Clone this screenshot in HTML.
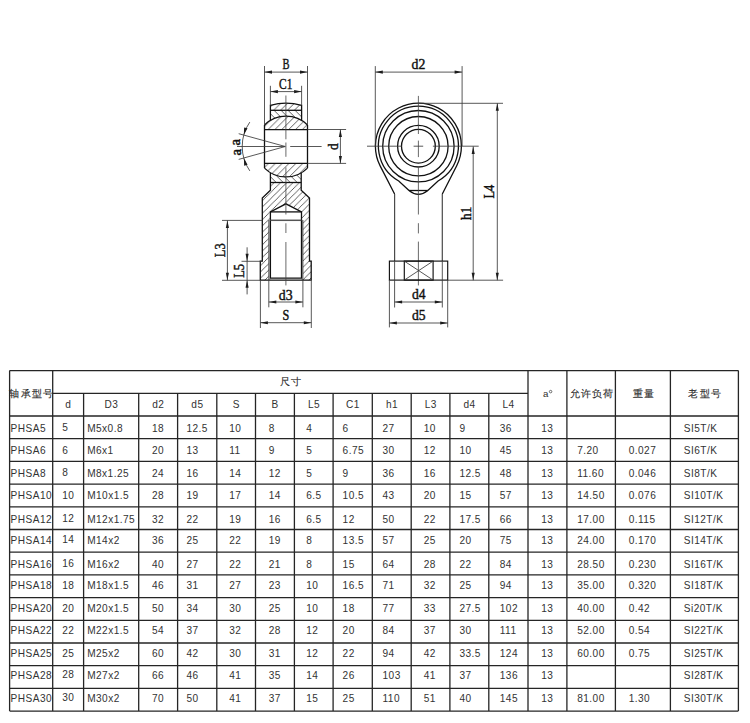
<!DOCTYPE html>
<html><head><meta charset="utf-8"><style>
html,body{margin:0;padding:0;background:#fff;width:750px;height:723px;overflow:hidden}
svg{display:block}
</style></head><body>
<svg width="750" height="723" viewBox="0 0 750 723">
<rect width="750" height="723" fill="#fff"/>
<defs>
<pattern id="hA" patternUnits="userSpaceOnUse" width="6.85" height="6.85" patternTransform="translate(0.4,0)"><path d="M-1,7.85 L7.85,-1 M-1,1 L1,-1 M5.85,7.85 L7.85,5.85" stroke="#2a2a2a" stroke-width="0.75"/></pattern>
<pattern id="hB" patternUnits="userSpaceOnUse" width="7.0" height="7.0" patternTransform="translate(2.7,0)"><path d="M-1,-1 L8.0,8.0 M-1,6.0 L1,8.0 M6.0,-1 L8.0,1" stroke="#2a2a2a" stroke-width="0.75"/></pattern>
<pattern id="hC" patternUnits="userSpaceOnUse" width="6.3" height="6.3" patternTransform="translate(3.2,0)"><path d="M-1,7.3 L7.3,-1 M-1,1 L1,-1 M5.3,7.3 L7.3,5.3" stroke="#2a2a2a" stroke-width="0.75"/></pattern>
</defs>
<path d="M270.4,110.3 L270.4,105.3 Q285.9,101.1 301.6,105.3 L301.6,110.3 Z" fill="url(#hA)"/>
<path d="M270.4,110.3 L301.6,110.3 L301.6,120.2 A30.5,30.5 0 0 0 270.4,120.2 Z" fill="url(#hB)"/>
<path d="M264.5,129.6 L264.5,125 A30.5,30.5 0 0 1 307.5,125 L307.5,129.6 Z" fill="url(#hA)"/>
<path d="M264.5,163.4 L264.5,168.1 A30.5,30.5 0 0 0 307.5,168.1 L307.5,163.4 Z" fill="url(#hA)"/>
<path d="M270.4,172.8 A30.5,30.5 0 0 0 301.2,172.8 L301.2,182.5 L270.4,182.5 Z" fill="url(#hB)"/>
<path d="M270.4,182.5 L301.2,182.5 L301.2,190.2 L309.5,198 L309.5,261.1 L311.2,261.1 L311.2,280.2 L301.5,280.2 L301.5,211.9 L285.9,203.8 L270.4,211.9 L270.4,280.2 L260.3,280.2 L260.3,261.1 L262.3,261.1 L262.3,198 L270.4,190.2 Z" fill="url(#hC)"/>
<rect x="268.9" y="220" width="1.5" height="60" fill="#cfcfcf"/>
<rect x="301.5" y="220" width="1.5" height="60" fill="#cfcfcf"/>
<path d="M270.4,120.2 L270.4,105.3 Q285.9,101.1 301.6,105.3 L301.6,120.2" stroke="#111" stroke-width="1.3" fill="none"/>
<line x1="270.40" y1="110.30" x2="301.60" y2="110.30" stroke="#111" stroke-width="1.3" fill="none"/>
<path d="M264.5,125 A30.5,30.5 0 0 1 307.5,125" stroke="#111" stroke-width="1.3" fill="none"/>
<path d="M264.5,168.1 A30.5,30.5 0 0 0 307.5,168.1" stroke="#111" stroke-width="1.3" fill="none"/>
<path d="M264.5,125 L264.5,168.1 M307.5,125 L307.5,168.1" stroke="#111" stroke-width="1.3" fill="none"/>
<line x1="264.50" y1="129.60" x2="307.50" y2="129.60" stroke="#111" stroke-width="1.3" fill="none"/>
<line x1="264.50" y1="163.40" x2="307.50" y2="163.40" stroke="#111" stroke-width="1.3" fill="none"/>
<path d="M270.4,172.8 L270.4,190.2 L262.3,198 L262.3,261.1 L260.3,261.1 L260.3,280.2 L311.2,280.2 L311.2,261.1 L309.5,261.1 L309.5,198 L301.2,190.2 L301.2,172.8" stroke="#111" stroke-width="1.3" fill="none"/>
<line x1="270.40" y1="182.50" x2="301.20" y2="182.50" stroke="#111" stroke-width="1.3" fill="none"/>
<path d="M270.4,278.1 L270.4,211.9 L285.9,203.8 L301.5,211.9 L301.5,278.1 Z" stroke="#111" stroke-width="1.3" fill="none"/>
<line x1="270.40" y1="211.90" x2="301.50" y2="211.90" stroke="#111" stroke-width="1.3" fill="none"/>
<line x1="270.40" y1="220.30" x2="301.50" y2="220.30" stroke="#555" stroke-width="1.5"/>
<line x1="268.80" y1="220.00" x2="268.80" y2="307.30" stroke="#3a3a3a" stroke-width="0.85" fill="none"/>
<line x1="302.90" y1="220.00" x2="302.90" y2="307.30" stroke="#3a3a3a" stroke-width="0.85" fill="none"/>
<line x1="285.90" y1="95.50" x2="285.90" y2="139.30" stroke="#444" stroke-width="0.8"/>
<line x1="285.90" y1="142.50" x2="285.90" y2="156.80" stroke="#444" stroke-width="0.8"/>
<line x1="285.90" y1="167.40" x2="285.90" y2="214.50" stroke="#444" stroke-width="0.8"/>
<line x1="285.90" y1="223.30" x2="285.90" y2="233.00" stroke="#444" stroke-width="0.8"/>
<line x1="285.90" y1="242.00" x2="285.90" y2="285.40" stroke="#444" stroke-width="0.8"/>
<line x1="237.00" y1="146.50" x2="284.70" y2="146.50" stroke="#3a3a3a" stroke-width="0.85" fill="none"/>
<line x1="290.20" y1="146.50" x2="321.60" y2="146.50" stroke="#3a3a3a" stroke-width="0.85" fill="none"/>
<line x1="264.50" y1="66.00" x2="264.50" y2="125.00" stroke="#3a3a3a" stroke-width="0.85" fill="none"/>
<line x1="307.50" y1="66.00" x2="307.50" y2="125.00" stroke="#3a3a3a" stroke-width="0.85" fill="none"/>
<line x1="264.50" y1="72.10" x2="307.50" y2="72.10" stroke="#3a3a3a" stroke-width="0.85" fill="none"/>
<path d="M264.50,72.10 L272.00,70.55 L272.00,73.65 Z" fill="#1c1c1c"/>
<path d="M307.50,72.10 L300.00,73.65 L300.00,70.55 Z" fill="#1c1c1c"/>
<text x="286.05" y="69.0" font-family="Liberation Serif" font-size="14.6" fill="#111" stroke="#111" stroke-width="0.42" text-anchor="middle" textLength="7.0" lengthAdjust="spacingAndGlyphs">B</text>
<line x1="270.40" y1="85.80" x2="270.40" y2="105.30" stroke="#3a3a3a" stroke-width="0.85" fill="none"/>
<line x1="301.60" y1="85.80" x2="301.60" y2="105.30" stroke="#3a3a3a" stroke-width="0.85" fill="none"/>
<line x1="270.40" y1="91.60" x2="301.60" y2="91.60" stroke="#3a3a3a" stroke-width="0.85" fill="none"/>
<path d="M270.40,91.60 L277.90,90.05 L277.90,93.15 Z" fill="#1c1c1c"/>
<path d="M301.60,91.60 L294.10,93.15 L294.10,90.05 Z" fill="#1c1c1c"/>
<text x="285.75" y="88.9" font-family="Liberation Serif" font-size="14.6" fill="#111" stroke="#111" stroke-width="0.42" text-anchor="middle" textLength="13.3" lengthAdjust="spacingAndGlyphs">C1</text>
<line x1="307.50" y1="129.50" x2="346.10" y2="129.50" stroke="#3a3a3a" stroke-width="0.85" fill="none"/>
<line x1="307.50" y1="163.40" x2="346.10" y2="163.40" stroke="#3a3a3a" stroke-width="0.85" fill="none"/>
<line x1="340.40" y1="129.50" x2="340.40" y2="163.40" stroke="#3a3a3a" stroke-width="0.85" fill="none"/>
<path d="M340.40,129.50 L341.95,137.00 L338.85,137.00 Z" fill="#1c1c1c"/>
<path d="M340.40,163.40 L338.85,155.90 L341.95,155.90 Z" fill="#1c1c1c"/>
<text x="0" y="0" font-family="Liberation Serif" font-size="14.6" fill="#111" stroke="#111" stroke-width="0.42" text-anchor="middle" textLength="6.6" lengthAdjust="spacingAndGlyphs" transform="translate(337.6,146.6) rotate(-90)">d</text>
<line x1="238.70" y1="133.70" x2="285.30" y2="146.50" stroke="#3a3a3a" stroke-width="0.85" fill="none"/>
<line x1="238.70" y1="159.40" x2="285.30" y2="146.50" stroke="#3a3a3a" stroke-width="0.85" fill="none"/>
<path d="M249.8,122.1 A43.0,43.0 0 0 0 249.8,170.9" stroke="#3a3a3a" stroke-width="0.85" fill="none"/>
<path d="M243.84,135.11 L244.13,127.42 L247.51,128.34 Z" fill="#1c1c1c"/>
<path d="M243.86,157.97 L247.55,164.73 L244.17,165.67 Z" fill="#1c1c1c"/>
<text x="0" y="0" font-family="Liberation Serif" font-size="15" fill="#111" stroke="#111" stroke-width="0.42" text-anchor="middle" textLength="6.6" lengthAdjust="spacingAndGlyphs" transform="translate(239.9,142.1) rotate(-90)">a</text>
<text x="0" y="0" font-family="Liberation Serif" font-size="15" fill="#111" stroke="#111" stroke-width="0.42" text-anchor="middle" textLength="6.6" lengthAdjust="spacingAndGlyphs" transform="translate(241.0,152.3) rotate(-90)">a</text>
<line x1="222.00" y1="220.40" x2="262.30" y2="220.40" stroke="#3a3a3a" stroke-width="0.85" fill="none"/>
<line x1="222.00" y1="280.30" x2="260.30" y2="280.30" stroke="#3a3a3a" stroke-width="0.85" fill="none"/>
<line x1="227.40" y1="220.40" x2="227.40" y2="280.30" stroke="#3a3a3a" stroke-width="0.85" fill="none"/>
<path d="M227.40,220.40 L228.95,227.90 L225.85,227.90 Z" fill="#1c1c1c"/>
<path d="M227.40,280.30 L225.85,272.80 L228.95,272.80 Z" fill="#1c1c1c"/>
<text x="0" y="0" font-family="Liberation Serif" font-size="14.6" fill="#111" stroke="#111" stroke-width="0.42" text-anchor="middle" textLength="13.8" lengthAdjust="spacingAndGlyphs" transform="translate(225.0,250.25) rotate(-90)">L3</text>
<line x1="241.50" y1="261.30" x2="262.30" y2="261.30" stroke="#3a3a3a" stroke-width="0.85" fill="none"/>
<line x1="247.10" y1="247.30" x2="247.10" y2="294.40" stroke="#3a3a3a" stroke-width="0.85" fill="none"/>
<path d="M247.10,261.30 L245.55,253.80 L248.65,253.80 Z" fill="#1c1c1c"/>
<path d="M247.10,280.30 L248.65,287.80 L245.55,287.80 Z" fill="#1c1c1c"/>
<text x="0" y="0" font-family="Liberation Serif" font-size="14.6" fill="#111" stroke="#111" stroke-width="0.42" text-anchor="middle" textLength="13.8" lengthAdjust="spacingAndGlyphs" transform="translate(244.2,270.85) rotate(-90)">L5</text>
<line x1="268.80" y1="302.00" x2="302.90" y2="302.00" stroke="#3a3a3a" stroke-width="0.85" fill="none"/>
<path d="M268.80,302.00 L276.30,300.45 L276.30,303.55 Z" fill="#1c1c1c"/>
<path d="M302.90,302.00 L295.40,303.55 L295.40,300.45 Z" fill="#1c1c1c"/>
<text x="285.7" y="299.5" font-family="Liberation Serif" font-size="14.6" fill="#111" stroke="#111" stroke-width="0.42" text-anchor="middle" textLength="13.8" lengthAdjust="spacingAndGlyphs">d3</text>
<line x1="260.40" y1="280.40" x2="260.40" y2="328.00" stroke="#3a3a3a" stroke-width="0.85" fill="none"/>
<line x1="311.30" y1="280.40" x2="311.30" y2="328.00" stroke="#3a3a3a" stroke-width="0.85" fill="none"/>
<line x1="260.40" y1="322.70" x2="311.30" y2="322.70" stroke="#3a3a3a" stroke-width="0.85" fill="none"/>
<path d="M260.40,322.70 L267.90,321.15 L267.90,324.25 Z" fill="#1c1c1c"/>
<path d="M311.30,322.70 L303.80,324.25 L303.80,321.15 Z" fill="#1c1c1c"/>
<text x="285.9" y="320.0" font-family="Liberation Serif" font-size="14.6" fill="#111" stroke="#111" stroke-width="0.42" text-anchor="middle" textLength="6.8" lengthAdjust="spacingAndGlyphs">S</text>
<path d="M394.6,194 L380.14,165.83 A43.0,43.0 0 1 1 456.71,165.73 L442.3,194" stroke="#111" stroke-width="1.3" fill="none"/>
<path d="M394.6,194 L394.6,261.1 M442.3,194 L442.3,261.1" stroke="#4a4a4a" stroke-width="1.2" fill="none"/>
<path d="M398.75,181.04 A40.0,40.0 0 1 1 438.05,181.04 L427.8,190.5 Q418.4,198.3 409,190.5 Z" stroke="#111" stroke-width="1.3" fill="none"/>
<line x1="409.00" y1="190.50" x2="427.80" y2="190.50" stroke="#111" stroke-width="1.3" fill="none"/>
<circle cx="418.4" cy="146.2" r="35.7" stroke="#111" stroke-width="1.3" fill="none"/>
<circle cx="418.4" cy="146.2" r="29.7" stroke="#111" stroke-width="1.3" fill="none"/>
<circle cx="418.4" cy="146.2" r="20.8" stroke="#111" stroke-width="1.3" fill="none"/>
<circle cx="418.4" cy="146.2" r="16.9" stroke="#111" stroke-width="1.3" fill="none"/>
<line x1="367.00" y1="146.20" x2="401.80" y2="146.20" stroke="#3a3a3a" stroke-width="0.85" fill="none"/>
<line x1="413.60" y1="146.20" x2="423.20" y2="146.20" stroke="#3a3a3a" stroke-width="0.85" fill="none"/>
<line x1="432.90" y1="146.20" x2="478.70" y2="146.20" stroke="#3a3a3a" stroke-width="0.85" fill="none"/>
<line x1="418.40" y1="95.90" x2="418.40" y2="134.00" stroke="#444" stroke-width="0.8"/>
<line x1="418.40" y1="140.60" x2="418.40" y2="157.10" stroke="#444" stroke-width="0.8"/>
<line x1="418.40" y1="167.80" x2="418.40" y2="214.50" stroke="#444" stroke-width="0.8"/>
<line x1="418.40" y1="223.20" x2="418.40" y2="233.40" stroke="#444" stroke-width="0.8"/>
<line x1="418.40" y1="241.60" x2="418.40" y2="285.40" stroke="#444" stroke-width="0.8"/>
<rect x="389.4" y="261.1" width="58.3" height="19" stroke="#111" stroke-width="1.15" fill="none"/>
<rect x="404.3" y="261.1" width="28.8" height="19" stroke="#111" stroke-width="1.15" fill="none"/>
<line x1="404.30" y1="261.10" x2="433.10" y2="280.10" stroke="#3a3a3a" stroke-width="0.85" fill="none"/>
<line x1="433.10" y1="261.10" x2="404.30" y2="280.10" stroke="#3a3a3a" stroke-width="0.85" fill="none"/>
<line x1="394.60" y1="261.10" x2="394.60" y2="307.50" stroke="#3a3a3a" stroke-width="0.85" fill="none"/>
<line x1="442.30" y1="261.10" x2="442.30" y2="307.50" stroke="#3a3a3a" stroke-width="0.85" fill="none"/>
<line x1="375.30" y1="66.10" x2="375.30" y2="146.20" stroke="#3a3a3a" stroke-width="0.85" fill="none"/>
<line x1="462.10" y1="66.10" x2="462.10" y2="146.20" stroke="#3a3a3a" stroke-width="0.85" fill="none"/>
<line x1="375.30" y1="72.10" x2="462.10" y2="72.10" stroke="#3a3a3a" stroke-width="0.85" fill="none"/>
<path d="M375.30,72.10 L382.80,70.55 L382.80,73.65 Z" fill="#1c1c1c"/>
<path d="M462.10,72.10 L454.60,73.65 L454.60,70.55 Z" fill="#1c1c1c"/>
<text x="418.4" y="69.0" font-family="Liberation Serif" font-size="14.6" fill="#111" stroke="#111" stroke-width="0.42" text-anchor="middle" textLength="13.8" lengthAdjust="spacingAndGlyphs">d2</text>
<line x1="418.40" y1="103.30" x2="503.00" y2="103.30" stroke="#3a3a3a" stroke-width="0.85" fill="none"/>
<line x1="447.70" y1="280.20" x2="503.10" y2="280.20" stroke="#3a3a3a" stroke-width="0.85" fill="none"/>
<line x1="497.30" y1="103.30" x2="497.30" y2="280.30" stroke="#3a3a3a" stroke-width="0.85" fill="none"/>
<path d="M497.30,103.30 L498.85,110.80 L495.75,110.80 Z" fill="#1c1c1c"/>
<path d="M497.30,280.30 L495.75,272.80 L498.85,272.80 Z" fill="#1c1c1c"/>
<line x1="473.20" y1="146.40" x2="473.20" y2="280.30" stroke="#3a3a3a" stroke-width="0.85" fill="none"/>
<path d="M473.20,146.40 L474.75,153.90 L471.65,153.90 Z" fill="#1c1c1c"/>
<path d="M473.20,280.30 L471.65,272.80 L474.75,272.80 Z" fill="#1c1c1c"/>
<text x="0" y="0" font-family="Liberation Serif" font-size="14.6" fill="#111" stroke="#111" stroke-width="0.42" text-anchor="middle" textLength="13.4" lengthAdjust="spacingAndGlyphs" transform="translate(470.6,213.35) rotate(-90)">h1</text>
<text x="0" y="0" font-family="Liberation Serif" font-size="14.6" fill="#111" stroke="#111" stroke-width="0.42" text-anchor="middle" textLength="13.8" lengthAdjust="spacingAndGlyphs" transform="translate(494.2,191.65) rotate(-90)">L4</text>
<line x1="394.60" y1="302.00" x2="442.30" y2="302.00" stroke="#3a3a3a" stroke-width="0.85" fill="none"/>
<path d="M394.60,302.00 L402.10,300.45 L402.10,303.55 Z" fill="#1c1c1c"/>
<path d="M442.30,302.00 L434.80,303.55 L434.80,300.45 Z" fill="#1c1c1c"/>
<text x="418.75" y="299.2" font-family="Liberation Serif" font-size="14.6" fill="#111" stroke="#111" stroke-width="0.42" text-anchor="middle" textLength="13.6" lengthAdjust="spacingAndGlyphs">d4</text>
<line x1="389.40" y1="280.10" x2="389.40" y2="327.40" stroke="#3a3a3a" stroke-width="0.85" fill="none"/>
<line x1="447.70" y1="280.10" x2="447.70" y2="327.40" stroke="#3a3a3a" stroke-width="0.85" fill="none"/>
<line x1="389.40" y1="323.00" x2="447.70" y2="323.00" stroke="#3a3a3a" stroke-width="0.85" fill="none"/>
<path d="M389.40,323.00 L396.90,321.45 L396.90,324.55 Z" fill="#1c1c1c"/>
<path d="M447.70,323.00 L440.20,324.55 L440.20,321.45 Z" fill="#1c1c1c"/>
<text x="418.75" y="320.0" font-family="Liberation Serif" font-size="14.6" fill="#111" stroke="#111" stroke-width="0.42" text-anchor="middle" textLength="13.6" lengthAdjust="spacingAndGlyphs">d5</text>
<line x1="9.60" y1="370.60" x2="738.40" y2="370.60" stroke="#252525" stroke-width="1.3"/>
<line x1="52.70" y1="393.30" x2="528.00" y2="393.30" stroke="#252525" stroke-width="1.3"/>
<line x1="9.60" y1="416.00" x2="738.40" y2="416.00" stroke="#252525" stroke-width="1.3"/>
<line x1="9.60" y1="438.70" x2="738.40" y2="438.70" stroke="#252525" stroke-width="1.3"/>
<line x1="9.60" y1="461.40" x2="738.40" y2="461.40" stroke="#252525" stroke-width="1.3"/>
<line x1="9.60" y1="484.10" x2="738.40" y2="484.10" stroke="#252525" stroke-width="1.3"/>
<line x1="9.60" y1="506.80" x2="738.40" y2="506.80" stroke="#252525" stroke-width="1.3"/>
<line x1="9.60" y1="529.50" x2="738.40" y2="529.50" stroke="#252525" stroke-width="1.3"/>
<line x1="9.60" y1="552.20" x2="738.40" y2="552.20" stroke="#252525" stroke-width="1.3"/>
<line x1="9.60" y1="574.90" x2="738.40" y2="574.90" stroke="#252525" stroke-width="1.3"/>
<line x1="9.60" y1="597.60" x2="738.40" y2="597.60" stroke="#252525" stroke-width="1.3"/>
<line x1="9.60" y1="620.30" x2="738.40" y2="620.30" stroke="#252525" stroke-width="1.3"/>
<line x1="9.60" y1="643.00" x2="738.40" y2="643.00" stroke="#252525" stroke-width="1.3"/>
<line x1="9.60" y1="665.70" x2="738.40" y2="665.70" stroke="#252525" stroke-width="1.3"/>
<line x1="9.60" y1="688.40" x2="738.40" y2="688.40" stroke="#252525" stroke-width="1.3"/>
<line x1="9.60" y1="711.10" x2="738.40" y2="711.10" stroke="#252525" stroke-width="1.3"/>
<line x1="9.60" y1="370.60" x2="9.60" y2="711.10" stroke="#252525" stroke-width="1.3"/>
<line x1="52.70" y1="370.60" x2="52.70" y2="711.10" stroke="#252525" stroke-width="1.3"/>
<line x1="83.60" y1="393.30" x2="83.60" y2="711.10" stroke="#252525" stroke-width="1.3"/>
<line x1="138.70" y1="393.30" x2="138.70" y2="711.10" stroke="#252525" stroke-width="1.3"/>
<line x1="177.60" y1="393.30" x2="177.60" y2="711.10" stroke="#252525" stroke-width="1.3"/>
<line x1="216.80" y1="393.30" x2="216.80" y2="711.10" stroke="#252525" stroke-width="1.3"/>
<line x1="255.50" y1="393.30" x2="255.50" y2="711.10" stroke="#252525" stroke-width="1.3"/>
<line x1="294.40" y1="393.30" x2="294.40" y2="711.10" stroke="#252525" stroke-width="1.3"/>
<line x1="333.10" y1="393.30" x2="333.10" y2="711.10" stroke="#252525" stroke-width="1.3"/>
<line x1="372.30" y1="393.30" x2="372.30" y2="711.10" stroke="#252525" stroke-width="1.3"/>
<line x1="411.20" y1="393.30" x2="411.20" y2="711.10" stroke="#252525" stroke-width="1.3"/>
<line x1="449.90" y1="393.30" x2="449.90" y2="711.10" stroke="#252525" stroke-width="1.3"/>
<line x1="488.80" y1="393.30" x2="488.80" y2="711.10" stroke="#252525" stroke-width="1.3"/>
<line x1="528.00" y1="370.60" x2="528.00" y2="711.10" stroke="#252525" stroke-width="1.3"/>
<line x1="566.90" y1="370.60" x2="566.90" y2="711.10" stroke="#252525" stroke-width="1.3"/>
<line x1="615.40" y1="370.60" x2="615.40" y2="711.10" stroke="#252525" stroke-width="1.3"/>
<line x1="670.40" y1="370.60" x2="670.40" y2="711.10" stroke="#252525" stroke-width="1.3"/>
<line x1="738.40" y1="370.60" x2="738.40" y2="711.10" stroke="#252525" stroke-width="1.3"/>
<text x="31.85" y="397.2" font-family="Liberation Sans" font-size="9.6" letter-spacing="1.2" fill="#2a2a2a" stroke="#2a2a2a" stroke-width="0.12" text-anchor="middle">轴承型号</text>
<text x="291.0" y="385.2" font-family="Liberation Sans" font-size="9.6" letter-spacing="1.2" fill="#2a2a2a" stroke="#2a2a2a" stroke-width="0.12" text-anchor="middle">尺寸</text>
<text x="592.15" y="397.2" font-family="Liberation Sans" font-size="9.6" letter-spacing="1.2" fill="#2a2a2a" stroke="#2a2a2a" stroke-width="0.12" text-anchor="middle">允许负荷</text>
<text x="644.0" y="397.2" font-family="Liberation Sans" font-size="9.6" letter-spacing="1.2" fill="#2a2a2a" stroke="#2a2a2a" stroke-width="0.12" text-anchor="middle">重量</text>
<text x="705.2" y="397.2" font-family="Liberation Sans" font-size="9.6" letter-spacing="1.2" fill="#2a2a2a" stroke="#2a2a2a" stroke-width="0.12" text-anchor="middle">老型号</text>
<text x="543.0" y="397.0" font-family="Liberation Sans" font-size="9.6" fill="#2a2a2a">a</text>
<circle cx="550.6" cy="391.6" r="1.25" stroke="#333" stroke-width="0.7" fill="none"/>
<text x="68.37" y="408.30" font-family="Liberation Sans" font-size="10.1" fill="#333" letter-spacing="0.45" text-anchor="middle">d</text>
<text x="111.37" y="408.30" font-family="Liberation Sans" font-size="10.1" fill="#333" letter-spacing="0.45" text-anchor="middle">D3</text>
<text x="158.37" y="408.30" font-family="Liberation Sans" font-size="10.1" fill="#333" letter-spacing="0.45" text-anchor="middle">d2</text>
<text x="197.42" y="408.30" font-family="Liberation Sans" font-size="10.1" fill="#333" letter-spacing="0.45" text-anchor="middle">d5</text>
<text x="236.37" y="408.30" font-family="Liberation Sans" font-size="10.1" fill="#333" letter-spacing="0.45" text-anchor="middle">S</text>
<text x="275.17" y="408.30" font-family="Liberation Sans" font-size="10.1" fill="#333" letter-spacing="0.45" text-anchor="middle">B</text>
<text x="313.97" y="408.30" font-family="Liberation Sans" font-size="10.1" fill="#333" letter-spacing="0.45" text-anchor="middle">L5</text>
<text x="352.92" y="408.30" font-family="Liberation Sans" font-size="10.1" fill="#333" letter-spacing="0.45" text-anchor="middle">C1</text>
<text x="391.97" y="408.30" font-family="Liberation Sans" font-size="10.1" fill="#333" letter-spacing="0.45" text-anchor="middle">h1</text>
<text x="430.77" y="408.30" font-family="Liberation Sans" font-size="10.1" fill="#333" letter-spacing="0.45" text-anchor="middle">L3</text>
<text x="469.57" y="408.30" font-family="Liberation Sans" font-size="10.1" fill="#333" letter-spacing="0.45" text-anchor="middle">d4</text>
<text x="508.62" y="408.30" font-family="Liberation Sans" font-size="10.1" fill="#333" letter-spacing="0.45" text-anchor="middle">L4</text>
<text x="10.60" y="432.00" font-family="Liberation Sans" font-size="10.1" fill="#333" letter-spacing="0.45" text-anchor="start">PHSA5</text>
<text x="62.20" y="431.30" font-family="Liberation Sans" font-size="10.1" fill="#333" letter-spacing="0.45" text-anchor="start">5</text>
<text x="87.20" y="432.00" font-family="Liberation Sans" font-size="10.1" fill="#333" letter-spacing="0.45" text-anchor="start">M5x0.8</text>
<text x="152.00" y="432.00" font-family="Liberation Sans" font-size="10.1" fill="#333" letter-spacing="0.45" text-anchor="start">18</text>
<text x="186.40" y="432.00" font-family="Liberation Sans" font-size="10.1" fill="#333" letter-spacing="0.45" text-anchor="start">12.5</text>
<text x="229.30" y="432.00" font-family="Liberation Sans" font-size="10.1" fill="#333" letter-spacing="0.45" text-anchor="start">10</text>
<text x="268.80" y="432.00" font-family="Liberation Sans" font-size="10.1" fill="#333" letter-spacing="0.45" text-anchor="start">8</text>
<text x="306.20" y="432.00" font-family="Liberation Sans" font-size="10.1" fill="#333" letter-spacing="0.45" text-anchor="start">4</text>
<text x="342.60" y="432.00" font-family="Liberation Sans" font-size="10.1" fill="#333" letter-spacing="0.45" text-anchor="start">6</text>
<text x="382.50" y="432.00" font-family="Liberation Sans" font-size="10.1" fill="#333" letter-spacing="0.45" text-anchor="start">27</text>
<text x="423.70" y="432.00" font-family="Liberation Sans" font-size="10.1" fill="#333" letter-spacing="0.45" text-anchor="start">10</text>
<text x="459.40" y="432.00" font-family="Liberation Sans" font-size="10.1" fill="#333" letter-spacing="0.45" text-anchor="start">9</text>
<text x="499.80" y="432.00" font-family="Liberation Sans" font-size="10.1" fill="#333" letter-spacing="0.45" text-anchor="start">36</text>
<text x="541.20" y="432.00" font-family="Liberation Sans" font-size="10.1" fill="#333" letter-spacing="0.45" text-anchor="start">13</text>
<text x="683.80" y="432.00" font-family="Liberation Sans" font-size="10.1" fill="#333" letter-spacing="0.45" text-anchor="start">SI5T/K</text>
<text x="10.60" y="454.30" font-family="Liberation Sans" font-size="10.1" fill="#333" letter-spacing="0.45" text-anchor="start">PHSA6</text>
<text x="62.20" y="453.60" font-family="Liberation Sans" font-size="10.1" fill="#333" letter-spacing="0.45" text-anchor="start">6</text>
<text x="87.20" y="454.30" font-family="Liberation Sans" font-size="10.1" fill="#333" letter-spacing="0.45" text-anchor="start">M6x1</text>
<text x="152.00" y="454.30" font-family="Liberation Sans" font-size="10.1" fill="#333" letter-spacing="0.45" text-anchor="start">20</text>
<text x="186.40" y="454.30" font-family="Liberation Sans" font-size="10.1" fill="#333" letter-spacing="0.45" text-anchor="start">13</text>
<text x="229.30" y="454.30" font-family="Liberation Sans" font-size="10.1" fill="#333" letter-spacing="0.45" text-anchor="start">11</text>
<text x="268.80" y="454.30" font-family="Liberation Sans" font-size="10.1" fill="#333" letter-spacing="0.45" text-anchor="start">9</text>
<text x="306.20" y="454.30" font-family="Liberation Sans" font-size="10.1" fill="#333" letter-spacing="0.45" text-anchor="start">5</text>
<text x="342.60" y="454.30" font-family="Liberation Sans" font-size="10.1" fill="#333" letter-spacing="0.45" text-anchor="start">6.75</text>
<text x="382.50" y="454.30" font-family="Liberation Sans" font-size="10.1" fill="#333" letter-spacing="0.45" text-anchor="start">30</text>
<text x="423.70" y="454.30" font-family="Liberation Sans" font-size="10.1" fill="#333" letter-spacing="0.45" text-anchor="start">12</text>
<text x="459.40" y="454.30" font-family="Liberation Sans" font-size="10.1" fill="#333" letter-spacing="0.45" text-anchor="start">10</text>
<text x="499.80" y="454.30" font-family="Liberation Sans" font-size="10.1" fill="#333" letter-spacing="0.45" text-anchor="start">45</text>
<text x="541.20" y="454.30" font-family="Liberation Sans" font-size="10.1" fill="#333" letter-spacing="0.45" text-anchor="start">13</text>
<text x="577.20" y="454.30" font-family="Liberation Sans" font-size="10.1" fill="#333" letter-spacing="0.45" text-anchor="start">7.20</text>
<text x="628.70" y="454.30" font-family="Liberation Sans" font-size="10.1" fill="#333" letter-spacing="0.45" text-anchor="start">0.027</text>
<text x="683.80" y="454.30" font-family="Liberation Sans" font-size="10.1" fill="#333" letter-spacing="0.45" text-anchor="start">SI6T/K</text>
<text x="10.60" y="477.00" font-family="Liberation Sans" font-size="10.1" fill="#333" letter-spacing="0.45" text-anchor="start">PHSA8</text>
<text x="62.20" y="476.30" font-family="Liberation Sans" font-size="10.1" fill="#333" letter-spacing="0.45" text-anchor="start">8</text>
<text x="87.20" y="477.00" font-family="Liberation Sans" font-size="10.1" fill="#333" letter-spacing="0.45" text-anchor="start">M8x1.25</text>
<text x="152.00" y="477.00" font-family="Liberation Sans" font-size="10.1" fill="#333" letter-spacing="0.45" text-anchor="start">24</text>
<text x="186.40" y="477.00" font-family="Liberation Sans" font-size="10.1" fill="#333" letter-spacing="0.45" text-anchor="start">16</text>
<text x="229.30" y="477.00" font-family="Liberation Sans" font-size="10.1" fill="#333" letter-spacing="0.45" text-anchor="start">14</text>
<text x="268.80" y="477.00" font-family="Liberation Sans" font-size="10.1" fill="#333" letter-spacing="0.45" text-anchor="start">12</text>
<text x="306.20" y="477.00" font-family="Liberation Sans" font-size="10.1" fill="#333" letter-spacing="0.45" text-anchor="start">5</text>
<text x="342.60" y="477.00" font-family="Liberation Sans" font-size="10.1" fill="#333" letter-spacing="0.45" text-anchor="start">9</text>
<text x="382.50" y="477.00" font-family="Liberation Sans" font-size="10.1" fill="#333" letter-spacing="0.45" text-anchor="start">36</text>
<text x="423.70" y="477.00" font-family="Liberation Sans" font-size="10.1" fill="#333" letter-spacing="0.45" text-anchor="start">16</text>
<text x="459.40" y="477.00" font-family="Liberation Sans" font-size="10.1" fill="#333" letter-spacing="0.45" text-anchor="start">12.5</text>
<text x="499.80" y="477.00" font-family="Liberation Sans" font-size="10.1" fill="#333" letter-spacing="0.45" text-anchor="start">48</text>
<text x="541.20" y="477.00" font-family="Liberation Sans" font-size="10.1" fill="#333" letter-spacing="0.45" text-anchor="start">13</text>
<text x="577.20" y="477.00" font-family="Liberation Sans" font-size="10.1" fill="#333" letter-spacing="0.45" text-anchor="start">11.60</text>
<text x="628.70" y="477.00" font-family="Liberation Sans" font-size="10.1" fill="#333" letter-spacing="0.45" text-anchor="start">0.046</text>
<text x="683.80" y="477.00" font-family="Liberation Sans" font-size="10.1" fill="#333" letter-spacing="0.45" text-anchor="start">SI8T/K</text>
<text x="10.60" y="499.20" font-family="Liberation Sans" font-size="10.1" fill="#333" letter-spacing="0.45" text-anchor="start">PHSA10</text>
<text x="62.20" y="498.50" font-family="Liberation Sans" font-size="10.1" fill="#333" letter-spacing="0.45" text-anchor="start">10</text>
<text x="87.20" y="499.20" font-family="Liberation Sans" font-size="10.1" fill="#333" letter-spacing="0.45" text-anchor="start">M10x1.5</text>
<text x="152.00" y="499.20" font-family="Liberation Sans" font-size="10.1" fill="#333" letter-spacing="0.45" text-anchor="start">28</text>
<text x="186.40" y="499.20" font-family="Liberation Sans" font-size="10.1" fill="#333" letter-spacing="0.45" text-anchor="start">19</text>
<text x="229.30" y="499.20" font-family="Liberation Sans" font-size="10.1" fill="#333" letter-spacing="0.45" text-anchor="start">17</text>
<text x="268.80" y="499.20" font-family="Liberation Sans" font-size="10.1" fill="#333" letter-spacing="0.45" text-anchor="start">14</text>
<text x="306.20" y="499.20" font-family="Liberation Sans" font-size="10.1" fill="#333" letter-spacing="0.45" text-anchor="start">6.5</text>
<text x="342.60" y="499.20" font-family="Liberation Sans" font-size="10.1" fill="#333" letter-spacing="0.45" text-anchor="start">10.5</text>
<text x="382.50" y="499.20" font-family="Liberation Sans" font-size="10.1" fill="#333" letter-spacing="0.45" text-anchor="start">43</text>
<text x="423.70" y="499.20" font-family="Liberation Sans" font-size="10.1" fill="#333" letter-spacing="0.45" text-anchor="start">20</text>
<text x="459.40" y="499.20" font-family="Liberation Sans" font-size="10.1" fill="#333" letter-spacing="0.45" text-anchor="start">15</text>
<text x="499.80" y="499.20" font-family="Liberation Sans" font-size="10.1" fill="#333" letter-spacing="0.45" text-anchor="start">57</text>
<text x="541.20" y="499.20" font-family="Liberation Sans" font-size="10.1" fill="#333" letter-spacing="0.45" text-anchor="start">13</text>
<text x="577.20" y="499.20" font-family="Liberation Sans" font-size="10.1" fill="#333" letter-spacing="0.45" text-anchor="start">14.50</text>
<text x="628.70" y="499.20" font-family="Liberation Sans" font-size="10.1" fill="#333" letter-spacing="0.45" text-anchor="start">0.076</text>
<text x="683.80" y="499.20" font-family="Liberation Sans" font-size="10.1" fill="#333" letter-spacing="0.45" text-anchor="start">SI10T/K</text>
<text x="10.60" y="522.50" font-family="Liberation Sans" font-size="10.1" fill="#333" letter-spacing="0.45" text-anchor="start">PHSA12</text>
<text x="62.20" y="521.80" font-family="Liberation Sans" font-size="10.1" fill="#333" letter-spacing="0.45" text-anchor="start">12</text>
<text x="87.20" y="522.50" font-family="Liberation Sans" font-size="10.1" fill="#333" letter-spacing="0.45" text-anchor="start">M12x1.75</text>
<text x="152.00" y="522.50" font-family="Liberation Sans" font-size="10.1" fill="#333" letter-spacing="0.45" text-anchor="start">32</text>
<text x="186.40" y="522.50" font-family="Liberation Sans" font-size="10.1" fill="#333" letter-spacing="0.45" text-anchor="start">22</text>
<text x="229.30" y="522.50" font-family="Liberation Sans" font-size="10.1" fill="#333" letter-spacing="0.45" text-anchor="start">19</text>
<text x="268.80" y="522.50" font-family="Liberation Sans" font-size="10.1" fill="#333" letter-spacing="0.45" text-anchor="start">16</text>
<text x="306.20" y="522.50" font-family="Liberation Sans" font-size="10.1" fill="#333" letter-spacing="0.45" text-anchor="start">6.5</text>
<text x="342.60" y="522.50" font-family="Liberation Sans" font-size="10.1" fill="#333" letter-spacing="0.45" text-anchor="start">12</text>
<text x="382.50" y="522.50" font-family="Liberation Sans" font-size="10.1" fill="#333" letter-spacing="0.45" text-anchor="start">50</text>
<text x="423.70" y="522.50" font-family="Liberation Sans" font-size="10.1" fill="#333" letter-spacing="0.45" text-anchor="start">22</text>
<text x="459.40" y="522.50" font-family="Liberation Sans" font-size="10.1" fill="#333" letter-spacing="0.45" text-anchor="start">17.5</text>
<text x="499.80" y="522.50" font-family="Liberation Sans" font-size="10.1" fill="#333" letter-spacing="0.45" text-anchor="start">66</text>
<text x="541.20" y="522.50" font-family="Liberation Sans" font-size="10.1" fill="#333" letter-spacing="0.45" text-anchor="start">13</text>
<text x="577.20" y="522.50" font-family="Liberation Sans" font-size="10.1" fill="#333" letter-spacing="0.45" text-anchor="start">17.00</text>
<text x="628.70" y="522.50" font-family="Liberation Sans" font-size="10.1" fill="#333" letter-spacing="0.45" text-anchor="start">0.115</text>
<text x="683.80" y="522.50" font-family="Liberation Sans" font-size="10.1" fill="#333" letter-spacing="0.45" text-anchor="start">SI12T/K</text>
<text x="10.60" y="543.80" font-family="Liberation Sans" font-size="10.1" fill="#333" letter-spacing="0.45" text-anchor="start">PHSA14</text>
<text x="62.20" y="543.10" font-family="Liberation Sans" font-size="10.1" fill="#333" letter-spacing="0.45" text-anchor="start">14</text>
<text x="87.20" y="543.80" font-family="Liberation Sans" font-size="10.1" fill="#333" letter-spacing="0.45" text-anchor="start">M14x2</text>
<text x="152.00" y="543.80" font-family="Liberation Sans" font-size="10.1" fill="#333" letter-spacing="0.45" text-anchor="start">36</text>
<text x="186.40" y="543.80" font-family="Liberation Sans" font-size="10.1" fill="#333" letter-spacing="0.45" text-anchor="start">25</text>
<text x="229.30" y="543.80" font-family="Liberation Sans" font-size="10.1" fill="#333" letter-spacing="0.45" text-anchor="start">22</text>
<text x="268.80" y="543.80" font-family="Liberation Sans" font-size="10.1" fill="#333" letter-spacing="0.45" text-anchor="start">19</text>
<text x="306.20" y="543.80" font-family="Liberation Sans" font-size="10.1" fill="#333" letter-spacing="0.45" text-anchor="start">8</text>
<text x="342.60" y="543.80" font-family="Liberation Sans" font-size="10.1" fill="#333" letter-spacing="0.45" text-anchor="start">13.5</text>
<text x="382.50" y="543.80" font-family="Liberation Sans" font-size="10.1" fill="#333" letter-spacing="0.45" text-anchor="start">57</text>
<text x="423.70" y="543.80" font-family="Liberation Sans" font-size="10.1" fill="#333" letter-spacing="0.45" text-anchor="start">25</text>
<text x="459.40" y="543.80" font-family="Liberation Sans" font-size="10.1" fill="#333" letter-spacing="0.45" text-anchor="start">20</text>
<text x="499.80" y="543.80" font-family="Liberation Sans" font-size="10.1" fill="#333" letter-spacing="0.45" text-anchor="start">75</text>
<text x="541.20" y="543.80" font-family="Liberation Sans" font-size="10.1" fill="#333" letter-spacing="0.45" text-anchor="start">13</text>
<text x="577.20" y="543.80" font-family="Liberation Sans" font-size="10.1" fill="#333" letter-spacing="0.45" text-anchor="start">24.00</text>
<text x="628.70" y="543.80" font-family="Liberation Sans" font-size="10.1" fill="#333" letter-spacing="0.45" text-anchor="start">0.170</text>
<text x="683.80" y="543.80" font-family="Liberation Sans" font-size="10.1" fill="#333" letter-spacing="0.45" text-anchor="start">SI14T/K</text>
<text x="10.60" y="567.80" font-family="Liberation Sans" font-size="10.1" fill="#333" letter-spacing="0.45" text-anchor="start">PHSA16</text>
<text x="62.20" y="567.10" font-family="Liberation Sans" font-size="10.1" fill="#333" letter-spacing="0.45" text-anchor="start">16</text>
<text x="87.20" y="567.80" font-family="Liberation Sans" font-size="10.1" fill="#333" letter-spacing="0.45" text-anchor="start">M16x2</text>
<text x="152.00" y="567.80" font-family="Liberation Sans" font-size="10.1" fill="#333" letter-spacing="0.45" text-anchor="start">40</text>
<text x="186.40" y="567.80" font-family="Liberation Sans" font-size="10.1" fill="#333" letter-spacing="0.45" text-anchor="start">27</text>
<text x="229.30" y="567.80" font-family="Liberation Sans" font-size="10.1" fill="#333" letter-spacing="0.45" text-anchor="start">22</text>
<text x="268.80" y="567.80" font-family="Liberation Sans" font-size="10.1" fill="#333" letter-spacing="0.45" text-anchor="start">21</text>
<text x="306.20" y="567.80" font-family="Liberation Sans" font-size="10.1" fill="#333" letter-spacing="0.45" text-anchor="start">8</text>
<text x="342.60" y="567.80" font-family="Liberation Sans" font-size="10.1" fill="#333" letter-spacing="0.45" text-anchor="start">15</text>
<text x="382.50" y="567.80" font-family="Liberation Sans" font-size="10.1" fill="#333" letter-spacing="0.45" text-anchor="start">64</text>
<text x="423.70" y="567.80" font-family="Liberation Sans" font-size="10.1" fill="#333" letter-spacing="0.45" text-anchor="start">28</text>
<text x="459.40" y="567.80" font-family="Liberation Sans" font-size="10.1" fill="#333" letter-spacing="0.45" text-anchor="start">22</text>
<text x="499.80" y="567.80" font-family="Liberation Sans" font-size="10.1" fill="#333" letter-spacing="0.45" text-anchor="start">84</text>
<text x="541.20" y="567.80" font-family="Liberation Sans" font-size="10.1" fill="#333" letter-spacing="0.45" text-anchor="start">13</text>
<text x="577.20" y="567.80" font-family="Liberation Sans" font-size="10.1" fill="#333" letter-spacing="0.45" text-anchor="start">28.50</text>
<text x="628.70" y="567.80" font-family="Liberation Sans" font-size="10.1" fill="#333" letter-spacing="0.45" text-anchor="start">0.230</text>
<text x="683.80" y="567.80" font-family="Liberation Sans" font-size="10.1" fill="#333" letter-spacing="0.45" text-anchor="start">SI16T/K</text>
<text x="10.60" y="589.30" font-family="Liberation Sans" font-size="10.1" fill="#333" letter-spacing="0.45" text-anchor="start">PHSA18</text>
<text x="62.20" y="588.60" font-family="Liberation Sans" font-size="10.1" fill="#333" letter-spacing="0.45" text-anchor="start">18</text>
<text x="87.20" y="589.30" font-family="Liberation Sans" font-size="10.1" fill="#333" letter-spacing="0.45" text-anchor="start">M18x1.5</text>
<text x="152.00" y="589.30" font-family="Liberation Sans" font-size="10.1" fill="#333" letter-spacing="0.45" text-anchor="start">46</text>
<text x="186.40" y="589.30" font-family="Liberation Sans" font-size="10.1" fill="#333" letter-spacing="0.45" text-anchor="start">31</text>
<text x="229.30" y="589.30" font-family="Liberation Sans" font-size="10.1" fill="#333" letter-spacing="0.45" text-anchor="start">27</text>
<text x="268.80" y="589.30" font-family="Liberation Sans" font-size="10.1" fill="#333" letter-spacing="0.45" text-anchor="start">23</text>
<text x="306.20" y="589.30" font-family="Liberation Sans" font-size="10.1" fill="#333" letter-spacing="0.45" text-anchor="start">10</text>
<text x="342.60" y="589.30" font-family="Liberation Sans" font-size="10.1" fill="#333" letter-spacing="0.45" text-anchor="start">16.5</text>
<text x="382.50" y="589.30" font-family="Liberation Sans" font-size="10.1" fill="#333" letter-spacing="0.45" text-anchor="start">71</text>
<text x="423.70" y="589.30" font-family="Liberation Sans" font-size="10.1" fill="#333" letter-spacing="0.45" text-anchor="start">32</text>
<text x="459.40" y="589.30" font-family="Liberation Sans" font-size="10.1" fill="#333" letter-spacing="0.45" text-anchor="start">25</text>
<text x="499.80" y="589.30" font-family="Liberation Sans" font-size="10.1" fill="#333" letter-spacing="0.45" text-anchor="start">94</text>
<text x="541.20" y="589.30" font-family="Liberation Sans" font-size="10.1" fill="#333" letter-spacing="0.45" text-anchor="start">13</text>
<text x="577.20" y="589.30" font-family="Liberation Sans" font-size="10.1" fill="#333" letter-spacing="0.45" text-anchor="start">35.00</text>
<text x="628.70" y="589.30" font-family="Liberation Sans" font-size="10.1" fill="#333" letter-spacing="0.45" text-anchor="start">0.320</text>
<text x="683.80" y="589.30" font-family="Liberation Sans" font-size="10.1" fill="#333" letter-spacing="0.45" text-anchor="start">SI18T/K</text>
<text x="10.60" y="612.30" font-family="Liberation Sans" font-size="10.1" fill="#333" letter-spacing="0.45" text-anchor="start">PHSA20</text>
<text x="62.20" y="611.60" font-family="Liberation Sans" font-size="10.1" fill="#333" letter-spacing="0.45" text-anchor="start">20</text>
<text x="87.20" y="612.30" font-family="Liberation Sans" font-size="10.1" fill="#333" letter-spacing="0.45" text-anchor="start">M20x1.5</text>
<text x="152.00" y="612.30" font-family="Liberation Sans" font-size="10.1" fill="#333" letter-spacing="0.45" text-anchor="start">50</text>
<text x="186.40" y="612.30" font-family="Liberation Sans" font-size="10.1" fill="#333" letter-spacing="0.45" text-anchor="start">34</text>
<text x="229.30" y="612.30" font-family="Liberation Sans" font-size="10.1" fill="#333" letter-spacing="0.45" text-anchor="start">30</text>
<text x="268.80" y="612.30" font-family="Liberation Sans" font-size="10.1" fill="#333" letter-spacing="0.45" text-anchor="start">25</text>
<text x="306.20" y="612.30" font-family="Liberation Sans" font-size="10.1" fill="#333" letter-spacing="0.45" text-anchor="start">10</text>
<text x="342.60" y="612.30" font-family="Liberation Sans" font-size="10.1" fill="#333" letter-spacing="0.45" text-anchor="start">18</text>
<text x="382.50" y="612.30" font-family="Liberation Sans" font-size="10.1" fill="#333" letter-spacing="0.45" text-anchor="start">77</text>
<text x="423.70" y="612.30" font-family="Liberation Sans" font-size="10.1" fill="#333" letter-spacing="0.45" text-anchor="start">33</text>
<text x="459.40" y="612.30" font-family="Liberation Sans" font-size="10.1" fill="#333" letter-spacing="0.45" text-anchor="start">27.5</text>
<text x="499.80" y="612.30" font-family="Liberation Sans" font-size="10.1" fill="#333" letter-spacing="0.45" text-anchor="start">102</text>
<text x="541.20" y="612.30" font-family="Liberation Sans" font-size="10.1" fill="#333" letter-spacing="0.45" text-anchor="start">13</text>
<text x="577.20" y="612.30" font-family="Liberation Sans" font-size="10.1" fill="#333" letter-spacing="0.45" text-anchor="start">40.00</text>
<text x="628.70" y="612.30" font-family="Liberation Sans" font-size="10.1" fill="#333" letter-spacing="0.45" text-anchor="start">0.42</text>
<text x="683.80" y="612.30" font-family="Liberation Sans" font-size="10.1" fill="#333" letter-spacing="0.45" text-anchor="start">Si20T/K</text>
<text x="10.60" y="634.40" font-family="Liberation Sans" font-size="10.1" fill="#333" letter-spacing="0.45" text-anchor="start">PHSA22</text>
<text x="62.20" y="633.70" font-family="Liberation Sans" font-size="10.1" fill="#333" letter-spacing="0.45" text-anchor="start">22</text>
<text x="87.20" y="634.40" font-family="Liberation Sans" font-size="10.1" fill="#333" letter-spacing="0.45" text-anchor="start">M22x1.5</text>
<text x="152.00" y="634.40" font-family="Liberation Sans" font-size="10.1" fill="#333" letter-spacing="0.45" text-anchor="start">54</text>
<text x="186.40" y="634.40" font-family="Liberation Sans" font-size="10.1" fill="#333" letter-spacing="0.45" text-anchor="start">37</text>
<text x="229.30" y="634.40" font-family="Liberation Sans" font-size="10.1" fill="#333" letter-spacing="0.45" text-anchor="start">32</text>
<text x="268.80" y="634.40" font-family="Liberation Sans" font-size="10.1" fill="#333" letter-spacing="0.45" text-anchor="start">28</text>
<text x="306.20" y="634.40" font-family="Liberation Sans" font-size="10.1" fill="#333" letter-spacing="0.45" text-anchor="start">12</text>
<text x="342.60" y="634.40" font-family="Liberation Sans" font-size="10.1" fill="#333" letter-spacing="0.45" text-anchor="start">20</text>
<text x="382.50" y="634.40" font-family="Liberation Sans" font-size="10.1" fill="#333" letter-spacing="0.45" text-anchor="start">84</text>
<text x="423.70" y="634.40" font-family="Liberation Sans" font-size="10.1" fill="#333" letter-spacing="0.45" text-anchor="start">37</text>
<text x="459.40" y="634.40" font-family="Liberation Sans" font-size="10.1" fill="#333" letter-spacing="0.45" text-anchor="start">30</text>
<text x="499.80" y="634.40" font-family="Liberation Sans" font-size="10.1" fill="#333" letter-spacing="0.45" text-anchor="start">111</text>
<text x="541.20" y="634.40" font-family="Liberation Sans" font-size="10.1" fill="#333" letter-spacing="0.45" text-anchor="start">13</text>
<text x="577.20" y="634.40" font-family="Liberation Sans" font-size="10.1" fill="#333" letter-spacing="0.45" text-anchor="start">52.00</text>
<text x="628.70" y="634.40" font-family="Liberation Sans" font-size="10.1" fill="#333" letter-spacing="0.45" text-anchor="start">0.54</text>
<text x="683.80" y="634.40" font-family="Liberation Sans" font-size="10.1" fill="#333" letter-spacing="0.45" text-anchor="start">SI22T/K</text>
<text x="10.60" y="657.30" font-family="Liberation Sans" font-size="10.1" fill="#333" letter-spacing="0.45" text-anchor="start">PHSA25</text>
<text x="62.20" y="656.60" font-family="Liberation Sans" font-size="10.1" fill="#333" letter-spacing="0.45" text-anchor="start">25</text>
<text x="87.20" y="657.30" font-family="Liberation Sans" font-size="10.1" fill="#333" letter-spacing="0.45" text-anchor="start">M25x2</text>
<text x="152.00" y="657.30" font-family="Liberation Sans" font-size="10.1" fill="#333" letter-spacing="0.45" text-anchor="start">60</text>
<text x="186.40" y="657.30" font-family="Liberation Sans" font-size="10.1" fill="#333" letter-spacing="0.45" text-anchor="start">42</text>
<text x="229.30" y="657.30" font-family="Liberation Sans" font-size="10.1" fill="#333" letter-spacing="0.45" text-anchor="start">30</text>
<text x="268.80" y="657.30" font-family="Liberation Sans" font-size="10.1" fill="#333" letter-spacing="0.45" text-anchor="start">31</text>
<text x="306.20" y="657.30" font-family="Liberation Sans" font-size="10.1" fill="#333" letter-spacing="0.45" text-anchor="start">12</text>
<text x="342.60" y="657.30" font-family="Liberation Sans" font-size="10.1" fill="#333" letter-spacing="0.45" text-anchor="start">22</text>
<text x="382.50" y="657.30" font-family="Liberation Sans" font-size="10.1" fill="#333" letter-spacing="0.45" text-anchor="start">94</text>
<text x="423.70" y="657.30" font-family="Liberation Sans" font-size="10.1" fill="#333" letter-spacing="0.45" text-anchor="start">42</text>
<text x="459.40" y="657.30" font-family="Liberation Sans" font-size="10.1" fill="#333" letter-spacing="0.45" text-anchor="start">33.5</text>
<text x="499.80" y="657.30" font-family="Liberation Sans" font-size="10.1" fill="#333" letter-spacing="0.45" text-anchor="start">124</text>
<text x="541.20" y="657.30" font-family="Liberation Sans" font-size="10.1" fill="#333" letter-spacing="0.45" text-anchor="start">13</text>
<text x="577.20" y="657.30" font-family="Liberation Sans" font-size="10.1" fill="#333" letter-spacing="0.45" text-anchor="start">60.00</text>
<text x="628.70" y="657.30" font-family="Liberation Sans" font-size="10.1" fill="#333" letter-spacing="0.45" text-anchor="start">0.75</text>
<text x="683.80" y="657.30" font-family="Liberation Sans" font-size="10.1" fill="#333" letter-spacing="0.45" text-anchor="start">SI25T/K</text>
<text x="10.60" y="678.90" font-family="Liberation Sans" font-size="10.1" fill="#333" letter-spacing="0.45" text-anchor="start">PHSA28</text>
<text x="62.20" y="678.20" font-family="Liberation Sans" font-size="10.1" fill="#333" letter-spacing="0.45" text-anchor="start">28</text>
<text x="87.20" y="678.90" font-family="Liberation Sans" font-size="10.1" fill="#333" letter-spacing="0.45" text-anchor="start">M27x2</text>
<text x="152.00" y="678.90" font-family="Liberation Sans" font-size="10.1" fill="#333" letter-spacing="0.45" text-anchor="start">66</text>
<text x="186.40" y="678.90" font-family="Liberation Sans" font-size="10.1" fill="#333" letter-spacing="0.45" text-anchor="start">46</text>
<text x="229.30" y="678.90" font-family="Liberation Sans" font-size="10.1" fill="#333" letter-spacing="0.45" text-anchor="start">41</text>
<text x="268.80" y="678.90" font-family="Liberation Sans" font-size="10.1" fill="#333" letter-spacing="0.45" text-anchor="start">35</text>
<text x="306.20" y="678.90" font-family="Liberation Sans" font-size="10.1" fill="#333" letter-spacing="0.45" text-anchor="start">14</text>
<text x="342.60" y="678.90" font-family="Liberation Sans" font-size="10.1" fill="#333" letter-spacing="0.45" text-anchor="start">26</text>
<text x="382.50" y="678.90" font-family="Liberation Sans" font-size="10.1" fill="#333" letter-spacing="0.45" text-anchor="start">103</text>
<text x="423.70" y="678.90" font-family="Liberation Sans" font-size="10.1" fill="#333" letter-spacing="0.45" text-anchor="start">41</text>
<text x="459.40" y="678.90" font-family="Liberation Sans" font-size="10.1" fill="#333" letter-spacing="0.45" text-anchor="start">37</text>
<text x="499.80" y="678.90" font-family="Liberation Sans" font-size="10.1" fill="#333" letter-spacing="0.45" text-anchor="start">136</text>
<text x="541.20" y="678.90" font-family="Liberation Sans" font-size="10.1" fill="#333" letter-spacing="0.45" text-anchor="start">13</text>
<text x="683.80" y="678.90" font-family="Liberation Sans" font-size="10.1" fill="#333" letter-spacing="0.45" text-anchor="start">SI28T/K</text>
<text x="10.60" y="701.80" font-family="Liberation Sans" font-size="10.1" fill="#333" letter-spacing="0.45" text-anchor="start">PHSA30</text>
<text x="62.20" y="701.10" font-family="Liberation Sans" font-size="10.1" fill="#333" letter-spacing="0.45" text-anchor="start">30</text>
<text x="87.20" y="701.80" font-family="Liberation Sans" font-size="10.1" fill="#333" letter-spacing="0.45" text-anchor="start">M30x2</text>
<text x="152.00" y="701.80" font-family="Liberation Sans" font-size="10.1" fill="#333" letter-spacing="0.45" text-anchor="start">70</text>
<text x="186.40" y="701.80" font-family="Liberation Sans" font-size="10.1" fill="#333" letter-spacing="0.45" text-anchor="start">50</text>
<text x="229.30" y="701.80" font-family="Liberation Sans" font-size="10.1" fill="#333" letter-spacing="0.45" text-anchor="start">41</text>
<text x="268.80" y="701.80" font-family="Liberation Sans" font-size="10.1" fill="#333" letter-spacing="0.45" text-anchor="start">37</text>
<text x="306.20" y="701.80" font-family="Liberation Sans" font-size="10.1" fill="#333" letter-spacing="0.45" text-anchor="start">15</text>
<text x="342.60" y="701.80" font-family="Liberation Sans" font-size="10.1" fill="#333" letter-spacing="0.45" text-anchor="start">25</text>
<text x="382.50" y="701.80" font-family="Liberation Sans" font-size="10.1" fill="#333" letter-spacing="0.45" text-anchor="start">110</text>
<text x="423.70" y="701.80" font-family="Liberation Sans" font-size="10.1" fill="#333" letter-spacing="0.45" text-anchor="start">51</text>
<text x="459.40" y="701.80" font-family="Liberation Sans" font-size="10.1" fill="#333" letter-spacing="0.45" text-anchor="start">40</text>
<text x="499.80" y="701.80" font-family="Liberation Sans" font-size="10.1" fill="#333" letter-spacing="0.45" text-anchor="start">145</text>
<text x="541.20" y="701.80" font-family="Liberation Sans" font-size="10.1" fill="#333" letter-spacing="0.45" text-anchor="start">13</text>
<text x="577.20" y="701.80" font-family="Liberation Sans" font-size="10.1" fill="#333" letter-spacing="0.45" text-anchor="start">81.00</text>
<text x="628.70" y="701.80" font-family="Liberation Sans" font-size="10.1" fill="#333" letter-spacing="0.45" text-anchor="start">1.30</text>
<text x="683.80" y="701.80" font-family="Liberation Sans" font-size="10.1" fill="#333" letter-spacing="0.45" text-anchor="start">SI30T/K</text>
</svg>
</body></html>
